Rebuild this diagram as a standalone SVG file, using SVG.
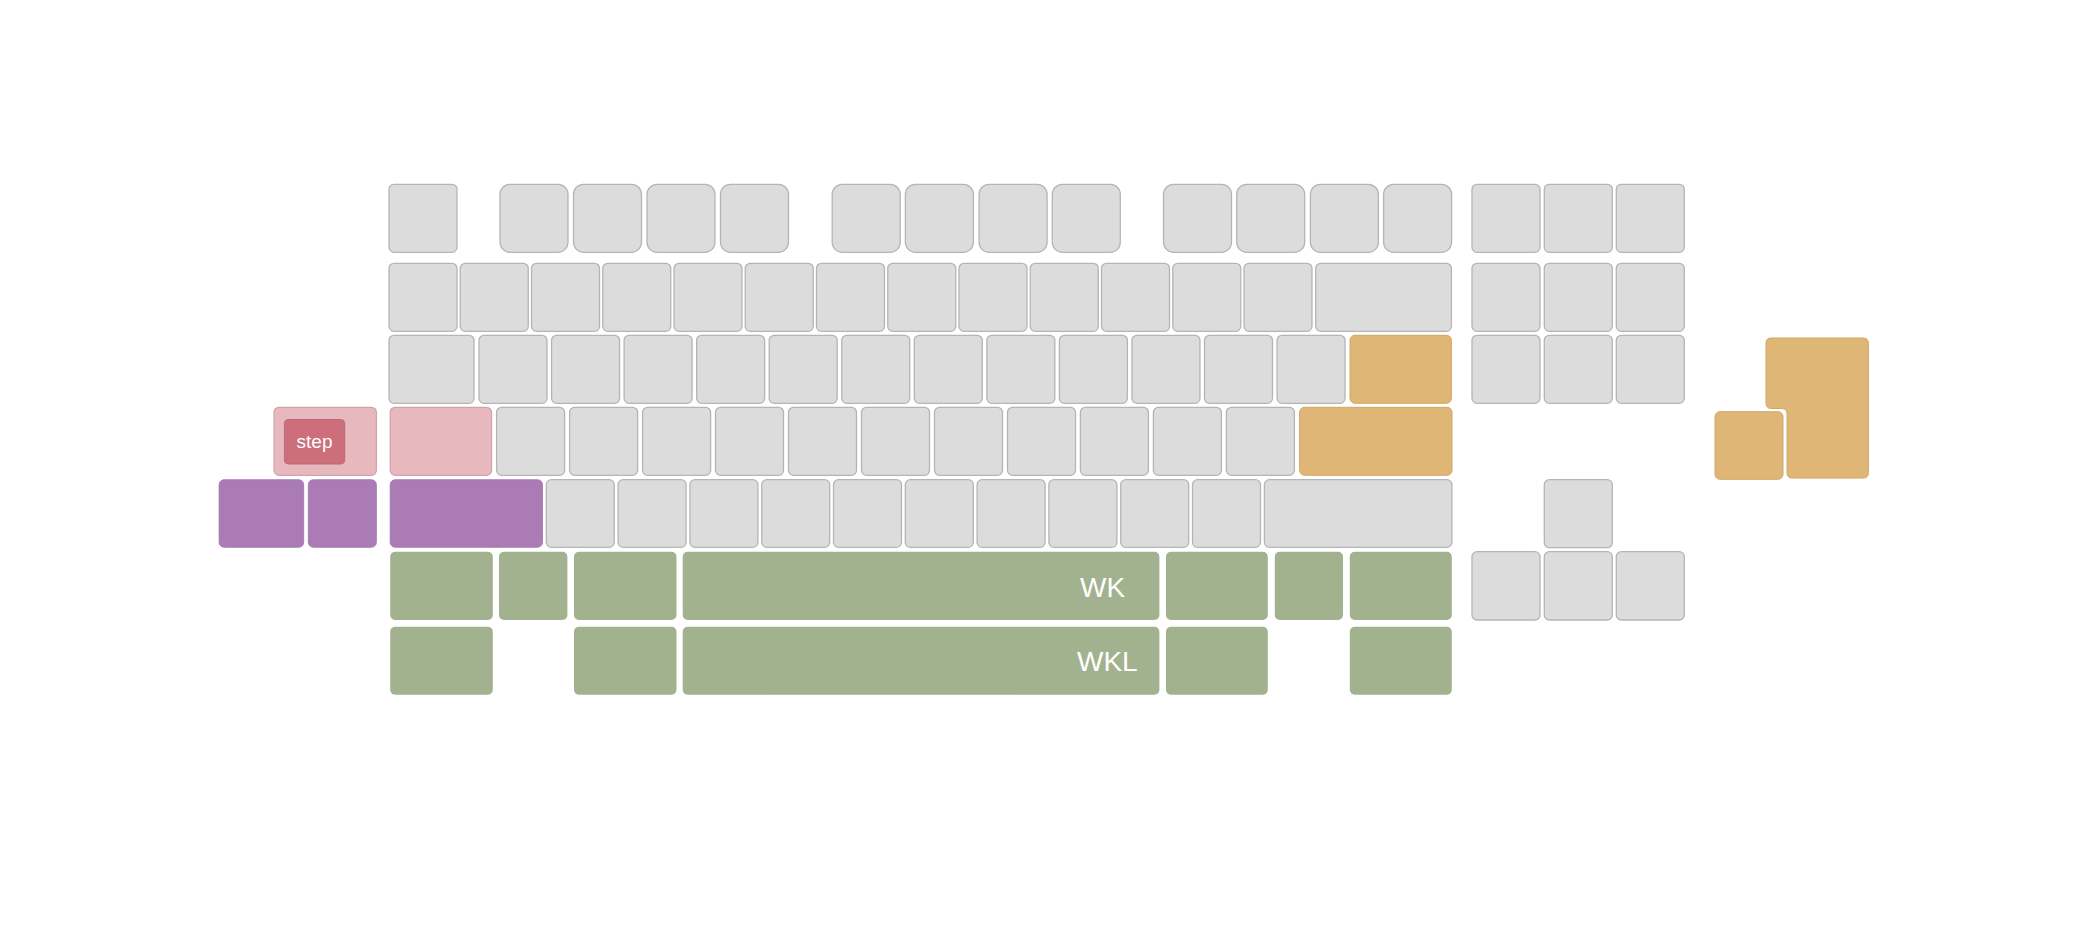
<svg xmlns="http://www.w3.org/2000/svg" width="2094" height="936" viewBox="0 0 2094 936">
<style>
.k{fill:#dcdcdc;stroke:#b5b5b5;stroke-width:1.3}
.f{fill:#dcdcdc;stroke:#b5b5b5;stroke-width:1.3}
.o{fill:#dfb676;stroke:#cfa868;stroke-width:1}
.p{fill:#e8b8bf;stroke:#cfa3aa;stroke-width:1.2}
.r{fill:#cc6f7b;stroke:#c0677a;stroke-width:1}
.v{fill:#ab7bb5;stroke:#a174ab;stroke-width:0.8}
.g{fill:#a3b28e}
.lbl{font-family:"Liberation Sans",Arial,sans-serif;fill:#ffffff}
</style>
<rect width="2094" height="936" fill="#ffffff"/>
<g id="connectors"/>
<!-- Row 1 -->
<g id="esc"><rect class="k" x="389" y="184.3" width="68" height="68" rx="5"/></g>
<g id="f1"><rect class="f" x="500" y="184.3" width="68" height="68" rx="10"/></g>
<g id="f2"><rect class="f" x="573.5" y="184.3" width="68" height="68" rx="10"/></g>
<g id="f3"><rect class="f" x="647" y="184.3" width="68" height="68" rx="10"/></g>
<g id="f4"><rect class="f" x="720.5" y="184.3" width="68" height="68" rx="10"/></g>
<g id="f5"><rect class="f" x="832.2" y="184.3" width="68" height="68" rx="10"/></g>
<g id="f6"><rect class="f" x="905.4" y="184.3" width="68" height="68" rx="10"/></g>
<g id="f7"><rect class="f" x="979.1" y="184.3" width="68" height="68" rx="10"/></g>
<g id="f8"><rect class="f" x="1052.3" y="184.3" width="68" height="68" rx="10"/></g>
<g id="f9"><rect class="f" x="1163.5" y="184.3" width="68" height="68" rx="10"/></g>
<g id="f10"><rect class="f" x="1236.7" y="184.3" width="68" height="68" rx="10"/></g>
<g id="f11"><rect class="f" x="1310.4" y="184.3" width="68" height="68" rx="10"/></g>
<g id="f12"><rect class="f" x="1383.6" y="184.3" width="68" height="68" rx="10"/></g>
<g id="nav1a"><rect class="k" x="1472" y="184.3" width="68" height="68" rx="5"/></g>
<g id="nav1b"><rect class="k" x="1544.3" y="184.3" width="68" height="68" rx="5"/></g>
<g id="nav1c"><rect class="k" x="1616.3" y="184.3" width="68" height="68" rx="5"/></g>
<!-- Row 2 -->
<g id="r2k0"><rect class="k" x="389" y="263.3" width="68" height="68" rx="5"/></g>
<g id="r2k1"><rect class="k" x="460.25" y="263.3" width="68" height="68" rx="5"/></g>
<g id="r2k2"><rect class="k" x="531.5" y="263.3" width="68" height="68" rx="5"/></g>
<g id="r2k3"><rect class="k" x="602.75" y="263.3" width="68" height="68" rx="5"/></g>
<g id="r2k4"><rect class="k" x="674" y="263.3" width="68" height="68" rx="5"/></g>
<g id="r2k5"><rect class="k" x="745.25" y="263.3" width="68" height="68" rx="5"/></g>
<g id="r2k6"><rect class="k" x="816.5" y="263.3" width="68" height="68" rx="5"/></g>
<g id="r2k7"><rect class="k" x="887.75" y="263.3" width="68" height="68" rx="5"/></g>
<g id="r2k8"><rect class="k" x="959" y="263.3" width="68" height="68" rx="5"/></g>
<g id="r2k9"><rect class="k" x="1030.25" y="263.3" width="68" height="68" rx="5"/></g>
<g id="r2k10"><rect class="k" x="1101.5" y="263.3" width="68" height="68" rx="5"/></g>
<g id="r2k11"><rect class="k" x="1172.75" y="263.3" width="68" height="68" rx="5"/></g>
<g id="r2k12"><rect class="k" x="1244" y="263.3" width="68" height="68" rx="5"/></g>
<g id="backspace"><rect class="k" x="1315.7" y="263.3" width="135.7" height="68" rx="5"/></g>
<g id="nav2a"><rect class="k" x="1472" y="263.3" width="68" height="68" rx="5"/></g>
<g id="nav2b"><rect class="k" x="1544.3" y="263.3" width="68" height="68" rx="5"/></g>
<g id="nav2c"><rect class="k" x="1616.3" y="263.3" width="68" height="68" rx="5"/></g>
<!-- Row 3 -->
<g id="tab"><rect class="k" x="389" y="335.3" width="85" height="68" rx="5"/></g>
<g id="r3k0"><rect class="k" x="479" y="335.3" width="68" height="68" rx="5"/></g>
<g id="r3k1"><rect class="k" x="551.55" y="335.3" width="68" height="68" rx="5"/></g>
<g id="r3k2"><rect class="k" x="624.1" y="335.3" width="68" height="68" rx="5"/></g>
<g id="r3k3"><rect class="k" x="696.65" y="335.3" width="68" height="68" rx="5"/></g>
<g id="r3k4"><rect class="k" x="769.2" y="335.3" width="68" height="68" rx="5"/></g>
<g id="r3k5"><rect class="k" x="841.75" y="335.3" width="68" height="68" rx="5"/></g>
<g id="r3k6"><rect class="k" x="914.3" y="335.3" width="68" height="68" rx="5"/></g>
<g id="r3k7"><rect class="k" x="986.85" y="335.3" width="68" height="68" rx="5"/></g>
<g id="r3k8"><rect class="k" x="1059.4" y="335.3" width="68" height="68" rx="5"/></g>
<g id="r3k9"><rect class="k" x="1131.95" y="335.3" width="68" height="68" rx="5"/></g>
<g id="r3k10"><rect class="k" x="1204.5" y="335.3" width="68" height="68" rx="5"/></g>
<g id="r3k11"><rect class="k" x="1277.05" y="335.3" width="68" height="68" rx="5"/></g>
<g id="r3orange"><rect class="o" x="1350" y="335.3" width="101.4" height="68" rx="5"/></g>
<g id="nav3a"><rect class="k" x="1472" y="335.3" width="68" height="68" rx="5"/></g>
<g id="nav3b"><rect class="k" x="1544.3" y="335.3" width="68" height="68" rx="5"/></g>
<g id="nav3c"><rect class="k" x="1616.3" y="335.3" width="68" height="68" rx="5"/></g>
<!-- Row 4 -->
<g id="step-key">
<rect class="p" x="274" y="407.3" width="102.4" height="68" rx="5"/>
<rect class="r" x="284.4" y="419.5" width="60.3" height="44.5" rx="4"/>
<text class="lbl" x="314.5" y="448" font-size="19" text-anchor="middle">step</text>
</g>
<g id="r4pink"><rect class="p" x="390.2" y="407.3" width="101.4" height="68" rx="5"/></g>
<g id="r4k0"><rect class="k" x="496.6" y="407.3" width="68" height="68" rx="5"/></g>
<g id="r4k1"><rect class="k" x="569.6" y="407.3" width="68" height="68" rx="5"/></g>
<g id="r4k2"><rect class="k" x="642.6" y="407.3" width="68" height="68" rx="5"/></g>
<g id="r4k3"><rect class="k" x="715.5" y="407.3" width="68" height="68" rx="5"/></g>
<g id="r4k4"><rect class="k" x="788.5" y="407.3" width="68" height="68" rx="5"/></g>
<g id="r4k5"><rect class="k" x="861.5" y="407.3" width="68" height="68" rx="5"/></g>
<g id="r4k6"><rect class="k" x="934.5" y="407.3" width="68" height="68" rx="5"/></g>
<g id="r4k7"><rect class="k" x="1007.5" y="407.3" width="68" height="68" rx="5"/></g>
<g id="r4k8"><rect class="k" x="1080.4" y="407.3" width="68" height="68" rx="5"/></g>
<g id="r4k9"><rect class="k" x="1153.4" y="407.3" width="68" height="68" rx="5"/></g>
<g id="r4k10"><rect class="k" x="1226.4" y="407.3" width="68" height="68" rx="5"/></g>
<g id="r4orange"><rect class="o" x="1299.6" y="407.3" width="152.4" height="68" rx="5"/></g>
<!-- Row 5 -->
<g id="r5purple1"><rect class="v" x="219.1" y="479.7" width="84.6" height="67.6" rx="5"/></g>
<g id="r5purple2"><rect class="v" x="308.3" y="479.7" width="68.1" height="67.6" rx="5"/></g>
<g id="r5purple3"><rect class="v" x="390.2" y="479.7" width="152.3" height="67.6" rx="5"/></g>
<g id="r5k0"><rect class="k" x="546.3" y="479.7" width="68" height="67.6" rx="5"/></g>
<g id="r5k1"><rect class="k" x="618.1" y="479.7" width="68" height="67.6" rx="5"/></g>
<g id="r5k2"><rect class="k" x="689.9" y="479.7" width="68" height="67.6" rx="5"/></g>
<g id="r5k3"><rect class="k" x="761.7" y="479.7" width="68" height="67.6" rx="5"/></g>
<g id="r5k4"><rect class="k" x="833.5" y="479.7" width="68" height="67.6" rx="5"/></g>
<g id="r5k5"><rect class="k" x="905.3" y="479.7" width="68" height="67.6" rx="5"/></g>
<g id="r5k6"><rect class="k" x="977.1" y="479.7" width="68" height="67.6" rx="5"/></g>
<g id="r5k7"><rect class="k" x="1048.9" y="479.7" width="68" height="67.6" rx="5"/></g>
<g id="r5k8"><rect class="k" x="1120.7" y="479.7" width="68" height="67.6" rx="5"/></g>
<g id="r5k9"><rect class="k" x="1192.5" y="479.7" width="68" height="67.6" rx="5"/></g>
<g id="r5shift"><rect class="k" x="1264.4" y="479.7" width="187.5" height="67.6" rx="5"/></g>
<g id="arrow-up"><rect class="k" x="1544.3" y="479.7" width="68" height="68" rx="5"/></g>
<!-- Row 6 -->
<g id="r6g0"><rect class="g" x="390.2" y="551.7" width="102.6" height="68.3" rx="5"/></g>
<g id="r6g1"><rect class="g" x="499" y="551.7" width="68.4" height="68.3" rx="5"/></g>
<g id="r6g2"><rect class="g" x="574" y="551.7" width="102.5" height="68.3" rx="5"/></g>
<g id="wk">
<rect class="g" x="682.7" y="551.7" width="476.7" height="68.3" rx="5"/>
<text class="lbl" x="1080" y="596.5" font-size="28">WK</text>
</g>
<g id="r6g4"><rect class="g" x="1166" y="551.7" width="101.8" height="68.3" rx="5"/></g>
<g id="r6g5"><rect class="g" x="1274.8" y="551.7" width="68.2" height="68.3" rx="5"/></g>
<g id="r6g6"><rect class="g" x="1349.8" y="551.7" width="102" height="68.3" rx="5"/></g>
<g id="arrow-left"><rect class="k" x="1472" y="551.7" width="68" height="68.3" rx="5"/></g>
<g id="arrow-down"><rect class="k" x="1544.3" y="551.7" width="68" height="68.3" rx="5"/></g>
<g id="arrow-right"><rect class="k" x="1616.3" y="551.7" width="68" height="68.3" rx="5"/></g>
<!-- Row 7 -->
<g id="r7g0"><rect class="g" x="390.2" y="626.7" width="102.6" height="68" rx="5"/></g>
<g id="r7g2"><rect class="g" x="574" y="626.7" width="102.5" height="68" rx="5"/></g>
<g id="wkl">
<rect class="g" x="682.7" y="626.7" width="476.7" height="68" rx="5"/>
<text class="lbl" x="1077" y="671" font-size="28">WKL</text>
</g>
<g id="r7g4"><rect class="g" x="1166" y="626.7" width="101.8" height="68" rx="5"/></g>
<g id="r7g6"><rect class="g" x="1349.8" y="626.7" width="102" height="68" rx="5"/></g>
<!-- Orange cluster at right -->
<g id="enter-l"><path class="o" d="M1771,338 H1863 Q1868.4,338 1868.4,343.4 V472.7 Q1868.4,478.1 1863,478.1 H1792.4 Q1787,478.1 1787,472.7 V414 Q1787,408.5 1781.5,408.5 H1771.4 Q1766,408.5 1766,403.1 V343.4 Q1766,338 1771,338 Z"/></g>
<g id="orange-small"><rect class="o" x="1715" y="411.7" width="68" height="67.6" rx="5"/></g>
</svg>
